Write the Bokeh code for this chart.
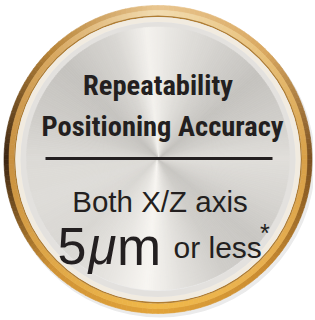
import numpy as np
from bokeh.plotting import figure
from bokeh.models import Range1d
from bokeh.core.properties import value
from bokeh.embed import file_html
from bokeh.resources import INLINE

# ---- content ----
title_lines = ["Repeatability", "Positioning Accuracy"]
subtitle = "Both X/Z axis"
value_num = "5"
value_mu = "\u03bc"
value_unit = "m"
value_suffix = "or less"
footnote_mark = "*"

W, H = 313, 318
p = figure(width=W, height=H, x_range=Range1d(0, W), y_range=Range1d(-H, 0),
           output_backend="svg", toolbar_location=None, min_border=0)
p.axis.visible = False
p.grid.visible = False
p.outline_line_color = None
p.background_fill_color = "white"
p.border_fill_color = "white"

CX, CY = 157.5, -159
S = 1.0


def h2r(h):
    return np.array([int(h[i:i + 2], 16) for i in (1, 3, 5)], dtype=float)


def ring(stops, r_in, r_out, n=180, cx=CX, cy=CY):
    angs = np.array([a for a, _ in stops], dtype=float)
    cols = np.array([h2r(c) for _, c in stops])
    step = 360.0 / n
    starts = np.arange(-180, 180, step)
    mids = starts + step / 2
    rgb = np.stack([np.interp(mids, angs, cols[:, k]) for k in range(3)], axis=1)
    colors = ["#%02x%02x%02x" % tuple(int(round(v)) for v in c) for c in rgb]
    if r_in <= 0:
        p.wedge(x=cx, y=cy, radius=r_out * S, start_angle=np.radians(starts),
                end_angle=np.radians(starts + step * 1.02), color=colors, line_width=0.6)
    else:
        p.annular_wedge(x=cx, y=cy, inner_radius=r_in * S, outer_radius=r_out * S,
                        start_angle=np.radians(starts), end_angle=np.radians(starts + step * 1.02),
                        color=colors, line_width=0.6)


# soft shadow
p.circle(x=CX + 2, y=CY - 3, radius=155 * S, color="#ebebeb", line_color=None)

gold_outer = [(-180, "#3a2412"), (-135, "#cf9236"), (-90, "#e2a43a"), (-45, "#c88a30"),
              (0, "#7a5020"), (45, "#d9a860"), (90, "#e9c690"), (135, "#b88438"), (180, "#3a2412")]
gold_inner = [(-180, "#c89040"), (-135, "#e0a848"), (-90, "#f0b848"), (-45, "#e8b050"),
              (0, "#d8a048"), (45, "#e8c078"), (90, "#f2dcb0"), (135, "#d8a860"), (180, "#c89040")]
ring(gold_outer, 149, 154)
ring(gold_inner, 144, 149)
p.annulus(x=CX, y=CY, inner_radius=142.6 * S, outer_radius=144 * S, color="#b07e34", line_color=None)
p.annulus(x=CX, y=CY, inner_radius=137.5 * S, outer_radius=142.6 * S, color="#f1ebe0", line_color=None)
p.annulus(x=CX, y=CY, inner_radius=131.5 * S, outer_radius=137.5 * S, color="#e3e1de", line_color=None)


def g(v):
    return "#%02x%02x%02x" % (min(255, v + 2), v, max(0, v - 4))


disc = [(-180, g(218)), (-160, g(220)), (-135, g(214)), (-110, g(230)), (-95, g(246)),
        (-80, g(226)), (-60, g(205)), (-40, g(198)), (-20, g(212)), (0, g(222)),
        (20, g(205)), (40, g(194)), (60, g(208)), (80, g(225)), (95, g(242)),
        (110, g(214)), (135, g(194)), (160, g(204)), (180, g(218))]
ring(disc, 0, 131.5, n=360, cx=157.5, cy=-158)

ink = "#231f20"
narrow = value("Roboto Condensed")
sans = value("Liberation Sans")

p.text(x=[157.5, 162], y=[-84.5, -126], text=title_lines, text_font=narrow, text_font_size="28.5px",
       text_font_style="bold", text_align="center", text_baseline="alphabetic", text_color=ink)
p.segment(x0=[45], y0=[-158], x1=[272], y1=[-158], line_width=3, line_color=ink)
p.text(x=[159.5], y=[-201], text=[subtitle], text_font=sans, text_font_size="29.5px",
       text_align="center", text_baseline="alphabetic", text_color=ink)
p.text(x=[57], y=[-245.5], text=[value_num], text_font=sans, text_font_size="52px",
       text_align="left", text_baseline="alphabetic", text_color=ink)
p.text(x=[88], y=[-245.5], text=[value_mu], text_font=sans, text_font_size="51px",
       text_font_style="italic", text_align="left", text_baseline="alphabetic", text_color=ink)
p.text(x=[116.5], y=[-245.5], text=[value_unit], text_font=sans, text_font_size="53px",
       text_align="left", text_baseline="alphabetic", text_color=ink)
p.text(x=[173], y=[-247], text=[value_suffix], text_font=sans, text_font_size="30px",
       text_align="left", text_baseline="alphabetic", text_color=ink)
p.text(x=[259.5], y=[-232], text=[footnote_mark], text_font=sans, text_font_size="25px",
       text_align="left", text_baseline="alphabetic", text_color=ink)

open("out.html", "w").write(file_html(p, INLINE))
